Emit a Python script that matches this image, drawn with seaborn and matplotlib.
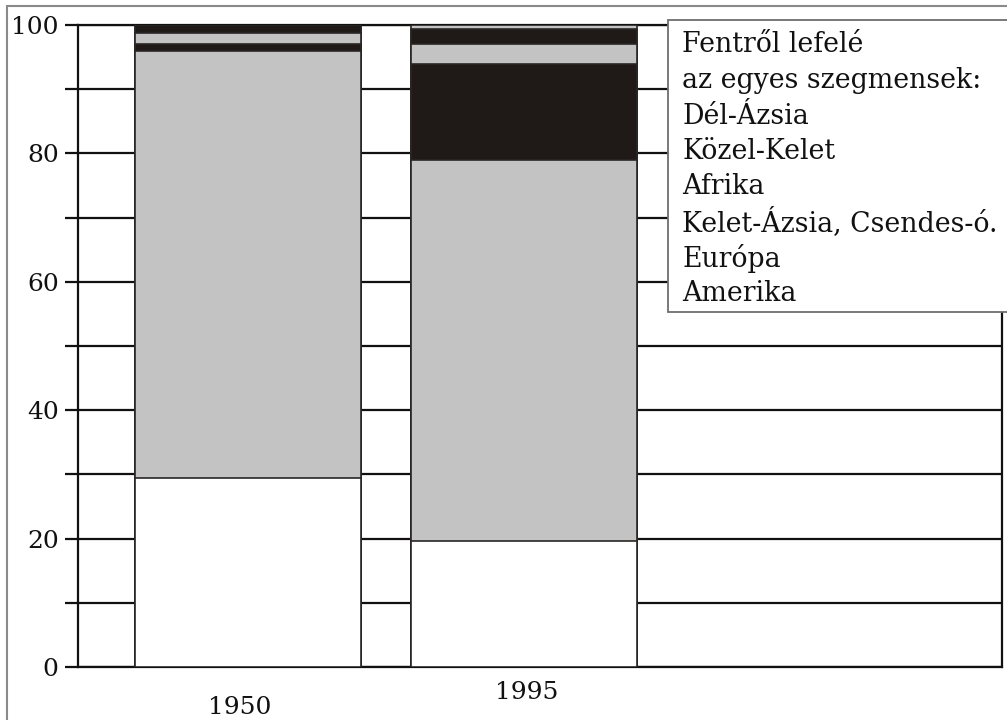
import matplotlib
matplotlib.use("Agg")
import matplotlib.pyplot as plt
import matplotlib.transforms as mtransforms
from matplotlib.patches import Rectangle
from matplotlib.ticker import MultipleLocator
import pandas as pd
import seaborn as sns

# Data (share in %, bottom segment first)
years = ["1950", "1995"]
regions = ["Amerika", "Európa", "Kelet-Ázsia, Csendes-ó.", "Afrika", "Közel-Kelet", "Dél-Ázsia"]
amerika = [29.4, 19.6]
europa = [66.6, 59.4]
kelet_azsia = [1.0, 15.0]
afrika = [1.8, 3.0]
kozel_kelet = [1.2, 2.3]
del_azsia = [0.0, 0.7]
seg_colors = ["white", "#c3c3c3", "#1f1a17", "#c3c3c3", "#1f1a17", "#c3c3c3"]

legend_lines = ["Fentről lefelé", "az egyes szegmensek:",
                "Dél-Ázsia", "Közel-Kelet", "Afrika",
                "Kelet-Ázsia, Csendes-ó.", "Európa", "Amerika"]

sns.set_theme(style="white")
plt.rcParams['font.family'] = ['DejaVu Serif']

df = pd.DataFrame({"Amerika": amerika, "Európa": europa,
                   "Kelet-Ázsia, Csendes-ó.": kelet_azsia, "Afrika": afrika,
                   "Közel-Kelet": kozel_kelet, "Dél-Ázsia": del_azsia}, index=years)
cum = df[regions].cumsum(axis=1)

fig = plt.figure(figsize=(10.07, 7.2), dpi=100)
ax = fig.add_axes([78 / 1007, 1 - 667 / 720, (1002 - 78) / 1007, (667 - 25) / 720])

# draw stacked bars from the top down so each lower segment covers the one above
for reg, col in zip(regions[::-1], seg_colors[::-1]):
    sns.barplot(x=years, y=cum[reg].values, color=col, width=0.822,
                edgecolor="#2a2626", linewidth=1.2, saturation=1, ax=ax, zorder=3)

ax.set_xlim(-0.616, 2.732)
ax.set_ylim(0, 100)
ax.yaxis.set_major_locator(MultipleLocator(20))
ax.yaxis.set_minor_locator(MultipleLocator(10))
ax.grid(True, axis="y", which="both", color="#111111", linewidth=1.6, zorder=0)
ax.grid(False, axis="x")
ax.set_axisbelow(True)
ax.tick_params(axis="y", which="both", length=9.4, width=1.6, color="#111111",
               left=True, pad=4.5, labelsize=18, labelcolor="#111111")
ax.tick_params(axis="x", length=0, labelsize=18, pad=10, labelcolor="#111111")
for s in ax.spines.values():
    s.set_color("#111111")
    s.set_linewidth(1.6)
ax.set_xlabel("")
ax.set_ylabel("")

# nudge the year labels like in the original
offsets = {"1950": (-8, -15), "1995": (3, 0)}
for lab in ax.get_xticklabels():
    dx, dy = offsets.get(lab.get_text(), (0, 0))
    lab.set_transform(lab.get_transform() + mtransforms.ScaledTranslation(dx / 100, dy / 100, fig.dpi_scale_trans))

# outer frame
fig.patches.append(Rectangle((7 / 1007, -0.1), 1.2, 1 - 6 / 720 + 0.1, transform=fig.transFigure,
                             fill=False, edgecolor="#8a8a8a", linewidth=1.5, zorder=0))

# text box at top right
fig.patches.append(Rectangle((668 / 1007, 1 - 312 / 720), 0.4, (312 - 20) / 720,
                             transform=fig.transFigure, facecolor="white",
                             edgecolor="#6e6e6e", linewidth=1.3, zorder=5))
for i, line in enumerate(legend_lines):
    y = 45 + i * 35.5
    fig.text(682 / 1007, 1 - y / 720, line, ha="left", va="center",
             fontsize=19.3, color="#111111", zorder=6)

fig.savefig("out.png", dpi=100)
